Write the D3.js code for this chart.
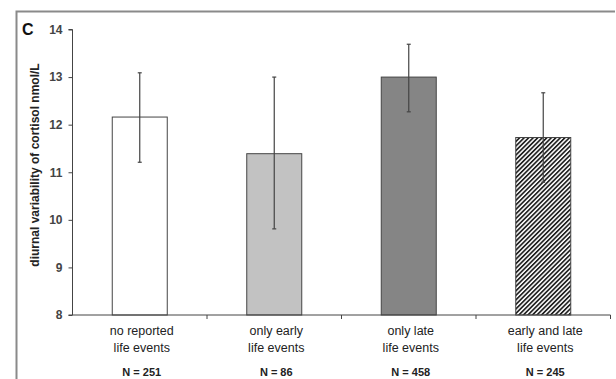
<!DOCTYPE html>
<html><head><meta charset="utf-8">
<script src="https://cdn.jsdelivr.net/npm/d3@7"></script>
<style>html,body{margin:0;padding:0;background:#fff;}svg{display:block;}</style>
</head><body>
<script>
const categories = [["no reported","life events"],["only early","life events"],["only late","life events"],["early and late","life events"]];
const nLabels = ["N = 251","N = 86","N = 458","N = 245"];
const means = [12.16, 11.39, 13.0, 11.73];
const upper = [13.09, 13.0, 13.69, 12.67];
const lower = [11.21, 9.81, 12.27, 10.79];
const yTicks = [8, 9, 10, 11, 12, 13, 14];
const fills = ["#ffffff", "#c2c2c2", "#858585", "url(#hatch)"];

const W = 616, H = 379;
const svg = d3.select("body").append("svg").attr("width", W).attr("height", H);
const defs = svg.append("defs");
const pat = defs.append("pattern").attr("id","hatch").attr("patternUnits","userSpaceOnUse")
  .attr("width",3.2).attr("height",3.2).attr("patternTransform","rotate(45)");
pat.append("rect").attr("width",3.2).attr("height",3.2).attr("fill","#fff");
pat.append("rect").attr("width",1.7).attr("height",3.2).attr("fill","#222");

// frame
svg.append("path").attr("d","M16.5,379 V11.5 H615").attr("fill","none").attr("stroke","#8a8a8a").attr("stroke-width",2);

const x = d3.scaleBand().domain(d3.range(categories.length)).range([72.5, 610.5]).paddingInner(0).paddingOuter(0);
const y = d3.scaleLinear().domain([8, 14]).range([315, 29.5]);
const bw = 55;

const g = svg.append("g");

// bars
g.selectAll("rect.bar").data(means).join("rect").attr("class","bar")
  .attr("x",(d,i)=>x(i)+x.bandwidth()/2-bw/2).attr("width",bw)
  .attr("y",d=>y(d)).attr("height",d=>y(8)-y(d))
  .attr("fill",(d,i)=>fills[i]).attr("stroke","#444").attr("stroke-width",1);

// error bars
const eb = g.selectAll("g.eb").data(means).join("g").attr("class","eb");
eb.append("line").attr("x1",(d,i)=>x(i)+x.bandwidth()/2).attr("x2",(d,i)=>x(i)+x.bandwidth()/2)
  .attr("y1",(d,i)=>y(upper[i])).attr("y2",(d,i)=>y(lower[i])).attr("stroke","#444").attr("stroke-width",1.2);
eb.append("line").attr("x1",(d,i)=>x(i)+x.bandwidth()/2-2).attr("x2",(d,i)=>x(i)+x.bandwidth()/2+2)
  .attr("y1",(d,i)=>y(upper[i])).attr("y2",(d,i)=>y(upper[i])).attr("stroke","#444").attr("stroke-width",1.2);
eb.append("line").attr("x1",(d,i)=>x(i)+x.bandwidth()/2-2).attr("x2",(d,i)=>x(i)+x.bandwidth()/2+2)
  .attr("y1",(d,i)=>y(lower[i])).attr("y2",(d,i)=>y(lower[i])).attr("stroke","#444").attr("stroke-width",1.2);

// y axis
const yAxis = d3.axisLeft(y).tickValues(yTicks).tickSize(4).tickPadding(6).tickFormat(d3.format("d"));
const ya = svg.append("g").attr("transform","translate(72.5,0)").call(yAxis);
ya.select(".domain").attr("stroke","#444").attr("d","M-4,"+y(14)+"H0V"+y(8)+"H-4");
ya.selectAll(".tick line").attr("stroke","#444");
ya.selectAll("text").attr("font-family","Liberation Sans, Arial, sans-serif").attr("font-size",12).attr("font-weight","bold").attr("fill","#444");

// x axis
const xa = svg.append("g").attr("transform","translate(0,315)");
xa.append("line").attr("x1",72.5).attr("x2",610.5).attr("y1",0).attr("y2",0).attr("stroke","#444");
xa.selectAll("line.t").data(d3.range(categories.length)).join("line").attr("class","t")
  .attr("x1",i=>x(i)+x.bandwidth()).attr("x2",i=>x(i)+x.bandwidth()).attr("y1",0).attr("y2",4).attr("stroke","#444");

const lab = svg.append("g").attr("font-family","Liberation Sans, Arial, sans-serif").attr("fill","#222").attr("text-anchor","middle");
categories.forEach((c,i)=>{
  const cx = x(i)+x.bandwidth()/2 + 2;
  lab.append("text").attr("x",cx).attr("y",335).attr("font-size",12.5).text(c[0]);
  lab.append("text").attr("x",cx).attr("y",352).attr("font-size",12.5).text(c[1]);
  lab.append("text").attr("x",cx).attr("y",376).attr("font-size",11).attr("font-weight","bold").text(nLabels[i]);
});

// y title
svg.append("text").attr("transform","translate(39,165) rotate(-90)").attr("text-anchor","middle")
  .attr("font-family","Liberation Sans, Arial, sans-serif").attr("font-size",12).attr("font-weight","bold").attr("fill","#222")
  .text("diurnal variability of cortisol nmol/L");

// panel label
svg.append("text").attr("x",22).attr("y",35).attr("font-family","Liberation Sans, Arial, sans-serif")
  .attr("font-size",16).attr("font-weight","bold").attr("fill","#111").text("C");
</script>
</body></html>
